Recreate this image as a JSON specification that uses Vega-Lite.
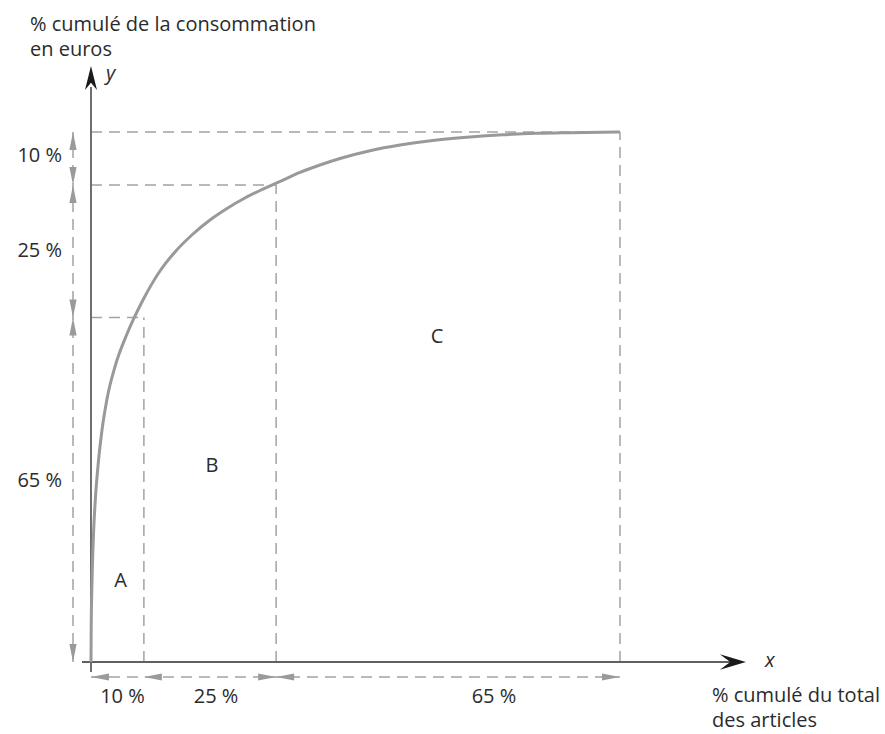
{
  "$schema": "https://vega.github.io/schema/vega-lite/v6.json",
  "width": 885,
  "height": 734,
  "autosize": "none",
  "padding": 0,
  "background": "white",
  "config": {"view": {"stroke": null}, "font": "Open Sans"},
  "datasets": {
    "curve": [
      {"x": 0, "y": 0}, {"x": 0.038, "y": 6.23}, {"x": 0.132, "y": 12.45}, {"x": 0.284, "y": 18.68},
      {"x": 0.51, "y": 24.91}, {"x": 0.851, "y": 31.13}, {"x": 1.361, "y": 37.36}, {"x": 2.06, "y": 43.58},
      {"x": 3.062, "y": 49.81}, {"x": 4.631, "y": 56.04}, {"x": 6.805, "y": 61.89}, {"x": 9.83, "y": 68.3},
      {"x": 13.04, "y": 73.77}, {"x": 15.88, "y": 77.36}, {"x": 19.28, "y": 80.75}, {"x": 22.5, "y": 83.4},
      {"x": 25.71, "y": 85.57}, {"x": 28.92, "y": 87.45}, {"x": 31.95, "y": 88.96}, {"x": 35.54, "y": 90.57},
      {"x": 39.51, "y": 92.36}, {"x": 43.29, "y": 93.77}, {"x": 47.07, "y": 95.0}, {"x": 52.74, "y": 96.47},
      {"x": 58.41, "y": 97.55}, {"x": 65.41, "y": 98.49}, {"x": 71.64, "y": 99.06}, {"x": 77.88, "y": 99.47},
      {"x": 84.31, "y": 99.74}, {"x": 90.55, "y": 99.87}, {"x": 100, "y": 100}
    ],
    "axes": [
      {"x": -1.7, "y": 0, "x2": 121.5, "y2": 0},
      {"x": 0, "y": -1.9, "x2": 0, "y2": 108.5}
    ],
    "guides": [
      {"x": 0, "y": 65, "x2": 10, "y2": 65},
      {"x": 0, "y": 90, "x2": 35, "y2": 90},
      {"x": 0, "y": 100, "x2": 100, "y2": 100},
      {"x": 10, "y": 0, "x2": 10, "y2": 65},
      {"x": 35, "y": 0, "x2": 35, "y2": 90},
      {"x": 100, "y": 0, "x2": 100, "y2": 100},
      {"x": -3.4, "y": 0, "x2": -3.4, "y2": 100},
      {"x": 0, "y": -2.83, "x2": 100, "y2": -2.83}
    ],
    "heads": [
      {"x": 123.8, "y": 0, "dir": "right"},
      {"x": 0, "y": 112.45, "dir": "up"}
    ],
    "marks": [
      {"x": -3.4, "y": 100, "dir": "up"},
      {"x": -3.4, "y": 90, "dir": "down"},
      {"x": -3.4, "y": 90, "dir": "up"},
      {"x": -3.4, "y": 65, "dir": "down"},
      {"x": -3.4, "y": 65, "dir": "up"},
      {"x": -3.4, "y": 0, "dir": "down"},
      {"x": 0, "y": -2.83, "dir": "left"},
      {"x": 10, "y": -2.83, "dir": "left"},
      {"x": 35, "y": -2.83, "dir": "right"},
      {"x": 35, "y": -2.83, "dir": "left"},
      {"x": 100, "y": -2.83, "dir": "right"}
    ],
    "labels": [
      {"x": -11.53, "y": 119.06, "text": "% cumulé de la consommation", "group": "title"},
      {"x": -11.53, "y": 114.34, "text": "en euros", "group": "title"},
      {"x": 117.39, "y": -7.6, "text": "% cumulé du total", "group": "title"},
      {"x": 117.39, "y": -12.3, "text": "des articles", "group": "title"},
      {"x": 2.84, "y": 109.8, "text": "y", "group": "var"},
      {"x": 127.4, "y": -0.94, "text": "x", "group": "var"},
      {"x": -5.48, "y": 94.34, "text": "10 %", "group": "left"},
      {"x": -5.48, "y": 76.42, "text": "25 %", "group": "left"},
      {"x": -5.48, "y": 33.02, "text": "65 %", "group": "left"},
      {"x": 5.95, "y": -7.74, "text": "10 %", "group": "bottom"},
      {"x": 23.63, "y": -7.74, "text": "25 %", "group": "bottom"},
      {"x": 76.18, "y": -7.74, "text": "65 %", "group": "bottom"},
      {"x": 5.58, "y": 14.15, "text": "A", "group": "bottom"},
      {"x": 22.87, "y": 35.85, "text": "B", "group": "bottom"},
      {"x": 65.41, "y": 60.19, "text": "C", "group": "bottom"}
    ]
  },
  "encoding": {
    "x": {"field": "x", "type": "quantitative", "axis": null, "scale": {"domain": [-17.2, 150.1], "nice": false, "zero": false}},
    "y": {"field": "y", "type": "quantitative", "axis": null, "scale": {"domain": [-13.58, 124.9], "nice": false, "zero": false}}
  },
  "layer": [
    {
      "data": {"name": "guides"},
      "mark": {"type": "rule", "color": "#a3a3a3", "strokeWidth": 1.5, "strokeDash": [11, 7]},
      "encoding": {"x2": {"field": "x2"}, "y2": {"field": "y2"}}
    },
    {
      "data": {"name": "marks"},
      "transform": [{"filter": "datum.dir === 'up'"}],
      "mark": {"type": "point", "shape": "M0,0 L0.4,2 L-0.4,2 Z", "size": 324, "filled": true, "color": "#9a9a9a", "opacity": 1, "strokeWidth": 0},
      "encoding": {}
    },
    {
      "data": {"name": "marks"},
      "transform": [{"filter": "datum.dir === 'down'"}],
      "mark": {"type": "point", "shape": "M0,0 L0.4,-2 L-0.4,-2 Z", "size": 324, "filled": true, "color": "#9a9a9a", "opacity": 1, "strokeWidth": 0},
      "encoding": {}
    },
    {
      "data": {"name": "marks"},
      "transform": [{"filter": "datum.dir === 'left'"}],
      "mark": {"type": "point", "shape": "M0,0 L2,-0.4 L2,0.4 Z", "size": 324, "filled": true, "color": "#9a9a9a", "opacity": 1, "strokeWidth": 0},
      "encoding": {}
    },
    {
      "data": {"name": "marks"},
      "transform": [{"filter": "datum.dir === 'right'"}],
      "mark": {"type": "point", "shape": "M0,0 L-2,-0.4 L-2,0.4 Z", "size": 324, "filled": true, "color": "#9a9a9a", "opacity": 1, "strokeWidth": 0},
      "encoding": {}
    },
    {
      "data": {"name": "axes"},
      "mark": {"type": "rule", "color": "#606060", "strokeWidth": 1.8},
      "encoding": {"x2": {"field": "x2"}, "y2": {"field": "y2"}}
    },
    {
      "data": {"name": "heads"},
      "transform": [{"filter": "datum.dir === 'right'"}],
      "mark": {"type": "point", "shape": "M0,0 L-2,-0.6 L-1.2,0 L-2,0.6 Z", "size": 676, "filled": true, "color": "#1a1a1a", "opacity": 1, "strokeWidth": 0},
      "encoding": {}
    },
    {
      "data": {"name": "heads"},
      "transform": [{"filter": "datum.dir === 'up'"}],
      "mark": {"type": "point", "shape": "M0,0 L0.5,2 L0,1.4 L-0.5,2 Z", "size": 576, "filled": true, "color": "#1a1a1a", "opacity": 1, "strokeWidth": 0},
      "encoding": {}
    },
    {
      "data": {"name": "curve"},
      "mark": {"type": "line", "color": "#999999", "strokeWidth": 3, "interpolate": "monotone"},
      "encoding": {}
    },
    {
      "data": {"name": "labels"},
      "transform": [{"filter": "datum.group === 'title'"}],
      "mark": {"type": "text", "align": "left", "baseline": "alphabetic", "fontSize": 20, "color": "#2b2b2b"},
      "encoding": {"text": {"field": "text"}}
    },
    {
      "data": {"name": "labels"},
      "transform": [{"filter": "datum.group === 'var'"}],
      "mark": {"type": "text", "align": "left", "baseline": "alphabetic", "fontSize": 20, "fontStyle": "italic", "color": "#2b2b2b"},
      "encoding": {"text": {"field": "text"}}
    },
    {
      "data": {"name": "labels"},
      "transform": [{"filter": "datum.group === 'left'"}],
      "mark": {"type": "text", "align": "right", "baseline": "alphabetic", "fontSize": 20, "color": "#2b2b2b"},
      "encoding": {"text": {"field": "text"}}
    },
    {
      "data": {"name": "labels"},
      "transform": [{"filter": "datum.group === 'bottom'"}],
      "mark": {"type": "text", "align": "center", "baseline": "alphabetic", "fontSize": 20, "color": "#2b2b2b"},
      "encoding": {"text": {"field": "text"}}
    }
  ]
}
